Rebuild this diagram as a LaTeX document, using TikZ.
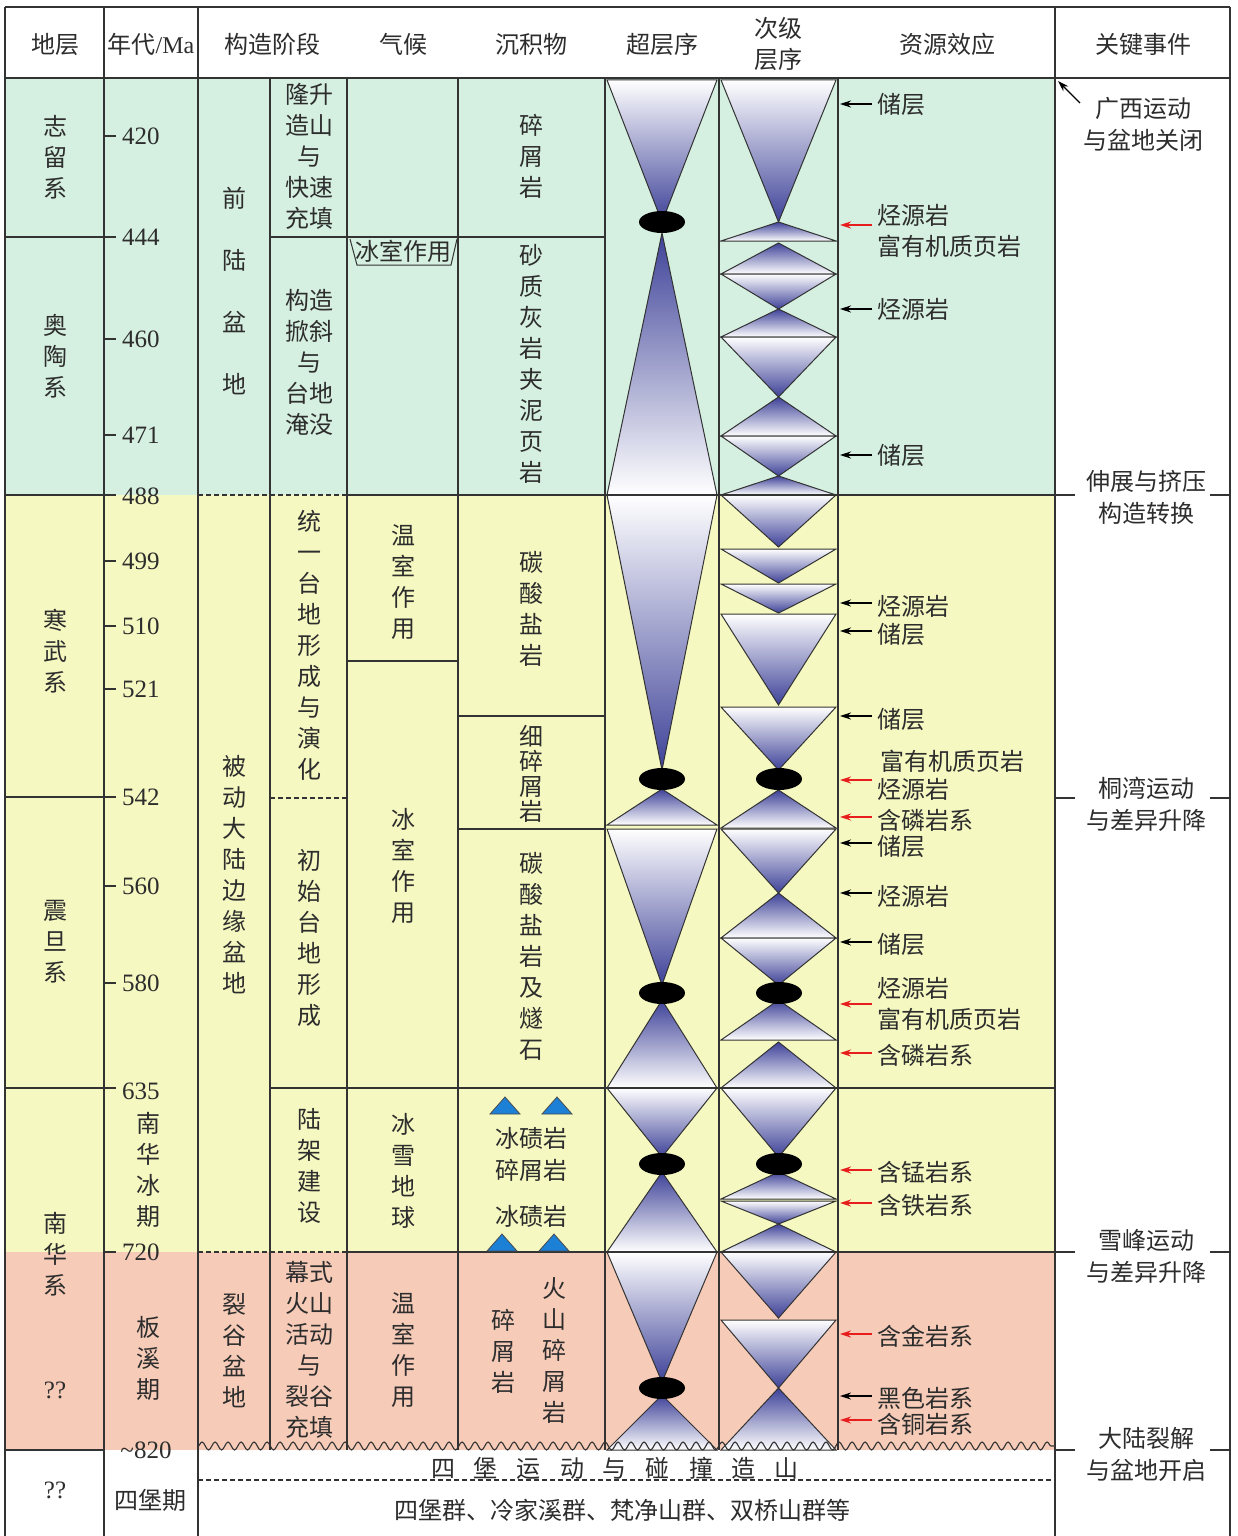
\documentclass[tikz,border=0pt]{standalone}
\usepackage{fontspec}
\setmainfont{Liberation Serif}
\newfontfamily\cjk{Noto Sans CJK SC}
\usetikzlibrary{arrows.meta,decorations.pathmorphing,shapes.geometric}
\definecolor{bggreen}{RGB}{213,239,224}
\definecolor{bgyellow}{RGB}{245,248,192}
\definecolor{bgpink}{RGB}{246,203,184}
\definecolor{seqblue}{RGB}{62,66,152}
\definecolor{icered}{RGB}{232,30,30}
\definecolor{iceblue}{RGB}{28,128,214}
\definecolor{txt}{RGB}{45,45,45}
\tikzset{
  cn/.style={font=\cjk\fontsize{24}{31}\selectfont, text=txt, inner sep=0pt, align=center},
  cnl/.style={cn, anchor=west, align=left},
  num/.style={font=\fontsize{25}{28}\selectfont, text=txt, inner sep=0pt},
  grid/.style={line width=1.1pt, draw=black!80},
  dashline/.style={grid, dash pattern=on 5pt off 3pt},
  tri/.style={draw=black!80, line width=1pt},
  blkarr/.style={-{Stealth[length=11pt,width=7pt]}, line width=1.1pt, draw=black},
  redarr/.style={-{Stealth[length=11pt,width=7pt]}, line width=1.3pt, draw=icered},
  ice/.style={fill=iceblue, draw=black!70, line width=0.8pt},
}
\newcommand\invtri[4]{\path[tri, top color=white, bottom color=seqblue] (#1,#3) -- (#2,#3) -- ({(#1+#2)/2},#4) -- cycle;}
\newcommand\uptri[4]{\path[tri, top color=seqblue, bottom color=white] (#1,#3) -- (#2,#3) -- ({(#1+#2)/2},#4) -- cycle;}
\newcommand\seqSD[2]{\invtri{607}{717}{#1}{#2}}
\newcommand\seqSU[2]{\uptri{607}{717}{#2}{#1}}
\newcommand\seqTD[2]{\invtri{721}{836}{#1}{#2}}
\newcommand\seqTU[2]{\uptri{721}{836}{#2}{#1}}
\newcommand\resA[3]{\coordinate (#1s) at (872,#2); \coordinate (#1e) at (840,#2); \draw[#3] (#1s) -- (#1e);}
\newcommand\icetri[2]{\path[ice] (#1-15,#2+8) -- (#1+15,#2+8) -- (#1,#2-9) -- cycle;}
\begin{document}
\begin{tikzpicture}[x=1pt,y=-1pt]
\useasboundingbox (0,0) rectangle (1237,1536);
\fill[white] (0,0) rectangle (1237,1536);
% backgrounds
\fill[bggreen] (5,78) rectangle (1055,495);
\fill[bgyellow] (5,495) rectangle (1055,1252);
\fill[bgpink] (5,1252) rectangle (1055,1450);
% super sequence
\seqSD{80}{222}
\seqSU{233}{495}
\seqSD{495}{770}
\seqSU{789}{825}
\seqSD{829}{985}
\seqSU{1000}{1088}
\seqSD{1088}{1157}
\seqSU{1172}{1252}
\seqSD{1252}{1382}
\seqSU{1395}{1450}
% secondary sequence
\seqTD{80}{222}
\seqTU{222}{241}
\seqTU{243}{274}
\seqTD{274}{309}
\seqTU{309}{337}
\seqTD{337}{397}
\seqTU{397}{436}
\seqTD{436}{476}
\seqTU{476}{495}
\seqTD{495}{547}
\seqTD{549}{583}
\seqTD{584}{613}
\seqTD{614}{705}
\seqTD{707}{770}
\seqTU{790}{828}
\seqTD{829}{893}
\seqTU{893}{938}
\seqTD{938}{985}
\seqTU{1000}{1040}
\seqTU{1042}{1088}
\seqTD{1088}{1157}
\seqTU{1172}{1199}
\seqTD{1201}{1224}
\seqTU{1224}{1252}
\seqTD{1252}{1318}
\seqTD{1320}{1388}
\seqTU{1388}{1450}
% ellipses
\foreach \y in {222,779,993,1164,1388} \fill[black] (662,\y) ellipse [x radius=23, y radius=11];
\foreach \y in {779,993,1164} \fill[black] (779,\y) ellipse [x radius=23, y radius=11];
% grid
\draw[grid] (5,7) -- (1230,7);
\draw[grid] (5,78) -- (1230,78);
\foreach \x in {5,104,198,1055,1230} \draw[grid] (\x,7) -- (\x,1536);
\foreach \x in {270,347,458,605,719,838} \draw[grid] (\x,78) -- (\x,1450);
\draw[grid] (5,237) -- (116,237);
\draw[grid] (270,237) -- (605,237);
\draw[grid, line width=1pt] (350,239) -- (357,265) -- (451,265) -- (457,239);
\draw[grid] (5,495) -- (116,495);
\draw[dashline] (198,495) -- (347,495);
\draw[grid] (347,495) -- (1075,495);
\draw[grid] (1210,495) -- (1230,495);
\draw[grid] (347,661) -- (458,661);
\draw[grid] (458,716) -- (605,716);
\draw[grid] (5,797) -- (116,797);
\draw[dashline] (270,798) -- (347,798);
\draw[grid] (1055,798) -- (1075,798);
\draw[grid] (1210,798) -- (1230,798);
\draw[grid] (458,829) -- (605,829);
\draw[grid] (5,1088) -- (116,1088);
\draw[grid] (270,1088) -- (1055,1088);
\draw[dashline] (198,1252) -- (347,1252);
\draw[grid] (347,1252) -- (1075,1252);
\draw[grid] (1210,1252) -- (1230,1252);
\draw[grid] (5,1450) -- (104,1450);
\draw[grid, decorate, decoration={snake, segment length=13pt, amplitude=4pt}] (198,1446) -- (1055,1446);
\draw[grid] (1055,1450) -- (1075,1450);
\draw[grid] (1210,1450) -- (1230,1450);
\draw[dashline] (198,1480) -- (1055,1480);
\foreach \y in {136,339,435,561,626,689,886,983,1252} \draw[grid] (104,\y) -- (116,\y);
% ice triangles
\icetri{505}{1106}
\icetri{557}{1106}
\icetri{502}{1243}
\icetri{554}{1243}
% header
\node[cn] (h1) at (55,44) {地层};
\node[cn] (h2) at (151,44) {年代{\normalfont/Ma}};
\node[cn] (h3) at (272,44) {构造阶段};
\node[cn] (h4) at (403,44) {气候};
\node[cn] (h5) at (531,44) {沉积物};
\node[cn] (h6) at (662,44) {超层序};
\node[cn] (h7) at (778,44) {次级\\层序};
\node[cn] (h8) at (947,44) {资源效应};
\node[cn] (h9) at (1143,44) {关键事件};
% strata
\node[cn] (d1) at (55,157) {志\\留\\系};
\node[cn] (d2) at (55,356) {奥\\陶\\系};
\node[cn] (d3) at (55,651) {寒\\武\\系};
\node[cn] (d4) at (55,942) {震\\旦\\系};
\node[cn] (d5) at (55,1254) {南\\华\\系};
\node[num] (d6) at (55,1390) {??};
\node[num] (d7) at (55,1490) {??};
% ages
\foreach \y/\t in {136/420, 237/444, 339/460, 435/471, 496/488, 561/499, 626/510, 689/521, 797/542, 886/560, 983/580, 1091/635, 1252/720}
  \node[num, anchor=west] (yr\t) at (122,\y) {\t};
\node[num] (yr820) at (146,1450) {\textasciitilde 820};
\node[cn] (g1) at (148,1170) {南\\华\\冰\\期};
\node[cn] (g2) at (148,1358) {板\\溪\\期};
\node[cn] (g3) at (150,1500) {四堡期};
% tectonics
\node[cn, font=\cjk\fontsize{24}{62}\selectfont] (c1) at (234,291) {前\\陆\\盆\\地};
\node[cn] (c2) at (309,156) {隆升\\造山\\与\\快速\\充填};
\node[cn] (c3) at (309,362) {构造\\掀斜\\与\\台地\\淹没};
\node[cn] (c4) at (309,645) {统\\一\\台\\地\\形\\成\\与\\演\\化};
\node[cn] (c5) at (234,875) {被\\动\\大\\陆\\边\\缘\\盆\\地};
\node[cn] (c6) at (309,938) {初\\始\\台\\地\\形\\成};
\node[cn] (c7) at (309,1166) {陆\\架\\建\\设};
\node[cn] (c8) at (234,1351) {裂\\谷\\盆\\地};
\node[cn] (c9) at (309,1350) {幕式\\火山\\活动\\与\\裂谷\\充填};
% climate
\node[cn] (k1) at (403,251) {冰室作用};
\node[cn] (k2) at (403,582) {温\\室\\作\\用};
\node[cn] (k3) at (403,866) {冰\\室\\作\\用};
\node[cn] (k4) at (403,1171) {冰\\雪\\地\\球};
\node[cn] (k5) at (403,1350) {温\\室\\作\\用};
% sediments
\node[cn] (s1) at (531,156) {碎\\屑\\岩};
\node[cn] (s2) at (531,364) {砂\\质\\灰\\岩\\夹\\泥\\页\\岩};
\node[cn] (s3) at (531,609) {碳\\酸\\盐\\岩};
\node[cn, font=\cjk\fontsize{24}{25}\selectfont] (s4) at (531,774) {细\\碎\\屑\\岩};
\node[cn] (s5) at (531,956) {碳\\酸\\盐\\岩\\及\\燧\\石};
\node[cn] (s6) at (531,1138) {冰碛岩};
\node[cn] (s7) at (531,1170) {碎屑岩};
\node[cn] (s8) at (531,1216) {冰碛岩};
\node[cn] (s9) at (503,1351) {碎\\屑\\岩};
\node[cn] (s10) at (554,1351) {火\\山\\碎\\屑\\岩};
% resources
\node[cnl] (r1) at (877,104) {储层}; \resA{a1}{104}{blkarr}
\node[cnl] (r2) at (877,231) {烃源岩\\富有机质页岩}; \resA{a2}{225}{redarr}
\node[cnl] (r3) at (877,309) {烃源岩}; \resA{a3}{309}{blkarr}
\node[cnl] (r4) at (877,455) {储层}; \resA{a4}{455}{blkarr}
\node[cnl] (r5) at (877,606) {烃源岩}; \resA{a5}{603}{blkarr}
\node[cnl] (r6) at (877,634) {储层}; \resA{a6}{631}{blkarr}
\node[cnl] (r7) at (877,719) {储层}; \resA{a7}{716}{blkarr}
\node[cnl] (r8) at (880,761) {富有机质页岩};
\node[cnl] (r9) at (877,789) {烃源岩}; \resA{a9}{780}{redarr}
\node[cnl] (r10) at (877,820) {含磷岩系}; \resA{a10}{817}{redarr}
\node[cnl] (r11) at (877,846) {储层}; \resA{a11}{843}{blkarr}
\node[cnl] (r12) at (877,896) {烃源岩}; \resA{a12}{893}{blkarr}
\node[cnl] (r13) at (877,944) {储层}; \resA{a13}{942}{blkarr}
\node[cnl] (r14) at (877,1004) {烃源岩\\富有机质页岩}; \resA{a14}{1004}{redarr}
\node[cnl] (r15) at (877,1055) {含磷岩系}; \resA{a15}{1053}{redarr}
\node[cnl] (r16) at (877,1172) {含锰岩系}; \resA{a16}{1170}{redarr}
\node[cnl] (r17) at (877,1205) {含铁岩系}; \resA{a17}{1203}{redarr}
\node[cnl] (r18) at (877,1336) {含金岩系}; \resA{a18}{1334}{redarr}
\node[cnl] (r19) at (877,1398) {黑色岩系}; \resA{a19}{1396}{blkarr}
\node[cnl] (r20) at (877,1424) {含铜岩系}; \resA{a20}{1420}{redarr}
% events
\node[cn, font=\cjk\fontsize{24}{32}\selectfont] (e1) at (1143,124) {广西运动\\与盆地关闭};
\coordinate (gxs) at (1080,103);
\coordinate (gxe) at (1058,81);
\draw[blkarr] (gxs) -- (gxe);
\node[cn, font=\cjk\fontsize{24}{32}\selectfont] (e2) at (1146,497) {伸展与挤压\\构造转换};
\node[cn, font=\cjk\fontsize{24}{32}\selectfont] (e3) at (1146,804) {桐湾运动\\与差异升降};
\node[cn, font=\cjk\fontsize{24}{32}\selectfont] (e4) at (1146,1256) {雪峰运动\\与差异升降};
\node[cn, font=\cjk\fontsize{24}{32}\selectfont] (e5) at (1146,1454) {大陆裂解\\与盆地开启};
% bottom
\node[cn] (b1) at (615,1468) {四\hspace{19pt}堡\hspace{19pt}运\hspace{19pt}动\hspace{19pt}与\hspace{19pt}碰\hspace{19pt}撞\hspace{19pt}造\hspace{19pt}山};
\node[cn] (b2) at (622,1510) {四堡群、冷家溪群、梵净山群、双桥山群等};
\end{tikzpicture}
\end{document}
